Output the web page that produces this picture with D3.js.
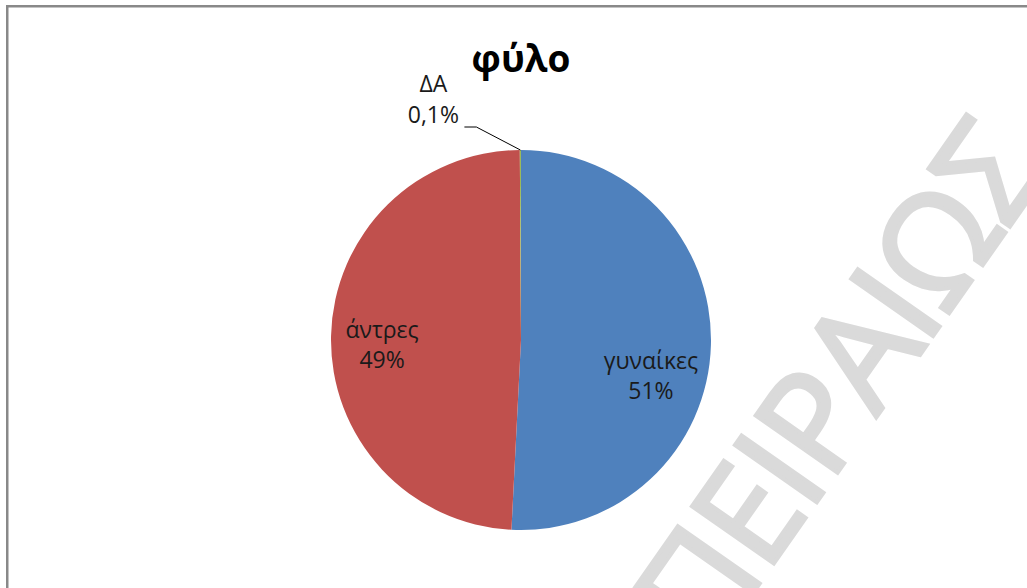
<!DOCTYPE html>
<html>
<head>
<meta charset="utf-8">
<script src="https://cdn.jsdelivr.net/npm/d3@7"></script>
<style>
  html, body { margin: 0; padding: 0; background: #fff; overflow: hidden; }
  svg { display: block; }
</style>
</head>
<body>
<svg id="chart" width="1027" height="588"></svg>
<script>
// Gender breakdown of respondents (percent)
const categories = ["γυναίκες", "άντρες", "ΔΑ"];
const shares = [50.8, 49.1, 0.1];
const sliceColors = ["#4F81BD", "#C0504D", "#9BBB59"];
const chartTitle = "φύλο";
const watermarkText = "ΠΕΙΡΑΙΩΣ";

const W = 1027, H = 588;
const cx = 521, cy = 340, radius = 190;

const svg = d3.select("#chart");

// chart frame (only its top and left edges fall inside the view)
svg.append("rect")
  .attr("x", 7.25).attr("y", 6.25)
  .attr("width", W + 40).attr("height", H + 40)
  .attr("fill", "#fff")
  .attr("stroke", "#898989")
  .attr("stroke-width", 2.5);

// diagonal watermark
svg.append("text")
  .attr("transform", "translate(880,412) rotate(-55)")
  .attr("text-anchor", "middle")
  .attr("font-family", "'Open Sans', sans-serif")
  .attr("font-size", 140)
  .attr("letter-spacing", -3)
  .attr("fill", "#dadada")
  .attr("stroke", "#dadada")
  .attr("stroke-width", 4)
  .attr("stroke-linejoin", "miter")
  .text(watermarkText);

// title
svg.append("text")
  .attr("x", cx).attr("y", 72)
  .attr("text-anchor", "middle")
  .attr("font-family", "'Open Sans', sans-serif")
  .attr("font-weight", "bold")
  .attr("font-size", 37)
  .attr("fill", "#000")
  .text(chartTitle);

const data = categories.map((c, i) => ({ name: c, value: shares[i], color: sliceColors[i] }));
const total = d3.sum(shares);

const pie = d3.pie().sort(null).value(d => d.value);
const arcs = pie(data);
const arc = d3.arc().innerRadius(0).outerRadius(radius);

const g = svg.append("g").attr("transform", `translate(${cx},${cy})`);

g.selectAll("path.slice")
  .data(arcs)
  .join("path")
  .attr("class", "slice")
  .attr("d", arc)
  .attr("fill", d => d.data.color);

// percent labels with Greek decimal comma
const grLocale = d3.formatLocale({ decimal: ",", thousands: ".", grouping: [3], currency: ["", "€"] });
const pct = v => {
  const p = v / total * 100;
  return (p >= 1 ? grLocale.format(".0f")(p) : grLocale.format(".1f")(p)) + "%";
};

const labelFont = "'Open Sans', sans-serif";
const labelSize = 23;
const lineGap = 30;

// inside labels: placed near the arc centroid, nudged to best-fit spots
const inner = d3.arc().innerRadius(137).outerRadius(137);
const nudge = { "γυναίκες": [-7, 34], "άντρες": [-2, 9] };

arcs.filter(d => d.data.value / total >= 0.05).forEach(d => {
  const [x0, y0] = inner.centroid(d);
  const [dx, dy] = nudge[d.data.name] || [0, 0];
  const t = g.append("text")
    .attr("text-anchor", "middle")
    .attr("font-family", labelFont)
    .attr("font-size", labelSize)
    .attr("fill", "#1a1a1a");
  t.append("tspan").attr("x", x0 + dx).attr("y", y0 + dy - 8).text(d.data.name);
  t.append("tspan").attr("x", x0 + dx).attr("y", y0 + dy - 8 + lineGap).text(pct(d.data.value));
});

// outside label with leader line for the tiny slice
arcs.filter(d => d.data.value / total < 0.05).forEach(d => {
  const mid = (d.startAngle + d.endAngle) / 2;
  const px = radius * Math.sin(mid), py = -radius * Math.cos(mid);
  const elbow = [px - 44, py - 23];
  const end = [elbow[0] - 12, elbow[1]];
  g.append("path")
    .attr("d", d3.line()([[px, py], elbow, end]))
    .attr("fill", "none")
    .attr("stroke", "#000")
    .attr("stroke-width", 1);
  const lx = end[0] - 31;
  const t = g.append("text")
    .attr("text-anchor", "middle")
    .attr("font-family", labelFont)
    .attr("font-size", labelSize)
    .attr("fill", "#1a1a1a");
  t.append("tspan").attr("x", lx).attr("y", end[1] - 35).text(d.data.name);
  t.append("tspan").attr("x", lx).attr("y", end[1] - 4).text(pct(d.data.value));
});
</script>
</body>
</html>
